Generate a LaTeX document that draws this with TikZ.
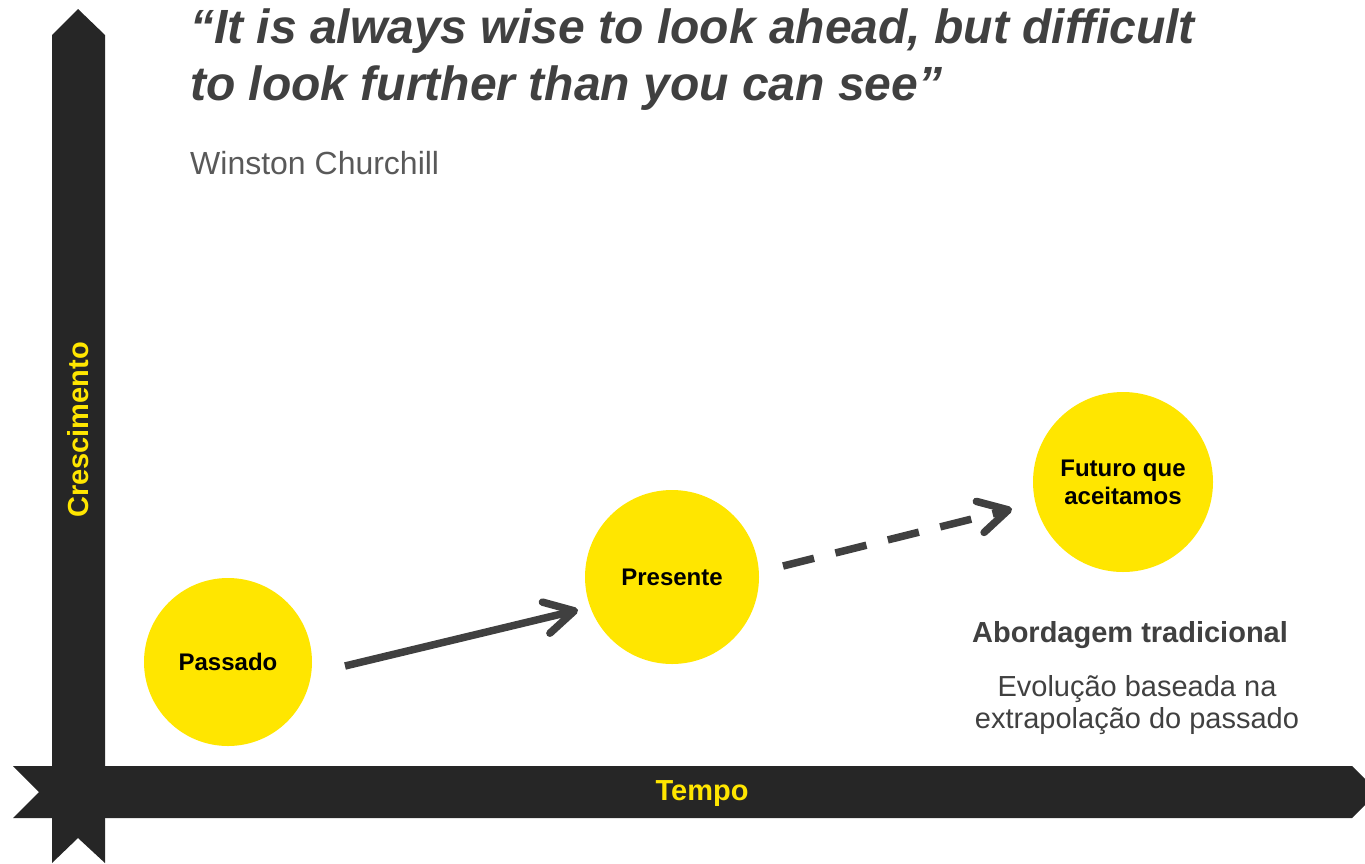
\documentclass[tikz,border=0pt]{standalone}
\usepackage{fontspec}
\setmainfont{Liberation Sans}
\usetikzlibrary{arrows.meta}
\definecolor{axisdark}{HTML}{262626}
\definecolor{eyyellow}{HTML}{FFE600}
\definecolor{arrowgrey}{HTML}{404040}
\definecolor{titlegrey}{HTML}{404040}
\definecolor{authorgrey}{HTML}{595959}
\definecolor{textgrey}{HTML}{404040}
\tikzset{
  axisshape/.style={fill=axisdark, draw=none},
  axislabel/.style={text=eyyellow, font=\fontsize{29}{33}\selectfont\bfseries, inner sep=0},
  bubble/.style={circle, fill=eyyellow, draw=none, inner sep=0, align=center, text=black, font=\fontsize{24}{28}\selectfont\bfseries},
  flow/.style={draw=arrowgrey, line width=7.5pt, -{Straight Barb[length=29pt,width=32pt,round]}},
  titletext/.style={anchor=base west, inner sep=0, text=titlegrey, font=\fontsize{48}{58}\selectfont\bfseries\itshape},
}
\begin{document}
\begin{tikzpicture}[x=1pt,y=-1pt]
\useasboundingbox (0,0) rectangle (1365,863);
\clip (0,0) rectangle (1365,863);
% axes
\fill[axisshape] (13,766) -- (1352,766) -- (1378,792) -- (1352,818) -- (13,818) -- (39,792) -- cycle;
\fill[axisshape] (52,35) -- (78,9) -- (105,35) -- (105,863) -- (78,838) -- (52,863) -- cycle;
\node[axislabel, rotate=90] (cresc) at (78,430) {Crescimento};
\node[axislabel, anchor=base] (tempo) at (702,800) {Tempo};
% title
\node[titletext] (t1) at (190,43) {“It is always wise to look ahead, but difficult};
\node[titletext] (t2) at (190,100) {to look further than you can see”};
\node[anchor=base west, inner sep=0, text=authorgrey, font=\fontsize{32}{36}\selectfont] (author) at (190,174) {Winston Churchill};
% bubbles
\node[bubble, minimum size=168pt] (passado) at (228,662) {Passado};
\node[bubble, minimum size=174pt] (presente) at (672,577) {Presente};
\node[bubble, minimum size=180pt] (futuro) at (1123,482) {Futuro que\\aceitamos};
% arrows
\coordinate (a1s) at (345,666);
\coordinate (a1e) at (578,610);
\coordinate (a2s) at (783,566);
\coordinate (a2e) at (1012,509);
\draw[flow] (a1s) -- (a1e);
\draw[flow, dash pattern=on 32pt off 22pt] (a2s) -- (a2e);
% side text
\node[anchor=base, inner sep=0, text=textgrey, font=\fontsize{29}{33}\selectfont\bfseries] (abord) at (1130,642) {Abordagem tradicional};
\node[anchor=base, inner sep=0, text=textgrey, align=center, font=\fontsize{29}{32}\selectfont] (evol) at (1137,728) {Evolução baseada na\\extrapolação do passado};
\end{tikzpicture}
\end{document}
